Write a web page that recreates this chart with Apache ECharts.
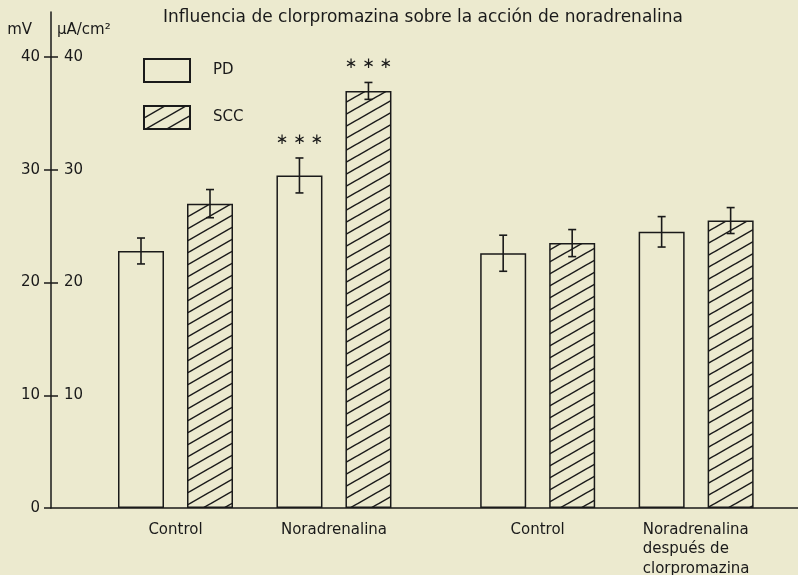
<!DOCTYPE html>
<html>
<head>
<meta charset="utf-8">
<script src="https://cdn.jsdelivr.net/npm/echarts@6/dist/echarts.min.js"></script>
<style>
html,body{margin:0;padding:0;background:#eceacf}
#main{width:798px;height:575px}
</style>
</head>
<body>
<div id="main"></div>
<script>
var titleText = 'Influencia de clorpromazina sobre la acción de noradrenalina';
var categories = ['Control', 'Noradrenalina', 'Control', 'Noradrenalina\ndespués de\nclorpromazina'];
var pdValues  = [22.8, 29.5, 22.6, 24.5];
var pdErrors  = [1.15, 1.55, 1.6, 1.35];
var sccValues = [27.0, 37.0, 23.5, 25.5];
var sccErrors = [1.25, 0.75, 1.2, 1.15];
var pdSig  = ['', '***', '', ''];
var sccSig = ['', '***', '', ''];
var mvTicks = [0, 10, 20, 30, 40];
var uaTicks = [10, 20, 30, 40];

// layout: axis cut into narrow slots so the gap between the two pairs can be wider
var SLOT_COUNT = 33;
var slotOf = [5, 12, 21, 28];
var BAR_W = 46, BAR_GAP = 23;
var OFFSET = (BAR_W + BAR_GAP) / 2;
var FONT = 'DejaVu Sans';
var INK = '#1a1a1a';

var slotNames = [];
for (var i = 0; i < SLOT_COUNT; i++) slotNames.push('');
categories.forEach(function(c, i){ slotNames[slotOf[i]] = c; });

function hatch(){
  var w = 21, h = 12;
  var c = document.createElement('canvas'); c.width = w; c.height = h;
  var g = c.getContext('2d');
  g.strokeStyle = INK; g.lineWidth = 1.5;
  for (var k = -1; k <= 1; k++) {
    g.beginPath();
    g.moveTo(-2, h + k*h + 2*h/w);
    g.lineTo(w + 2, k*h - 2*h/w);
    g.stroke();
  }
  return c;
}

function slotData(vals){ return vals.map(function(v, i){ return [slotOf[i], v]; }); }

function errSeries(vals, errs, sig, dx){
  return {
    type: 'custom', z: 5, silent: true,
    data: vals.map(function(v, i){ return [slotOf[i], v, errs[i]]; }),
    renderItem: function(params, api){
      var x = api.value(0), v = api.value(1), e = api.value(2);
      var top = api.coord([x, v + e]), bot = api.coord([x, v - e]);
      var cx = top[0] + dx, cap = 4;
      var ls = {stroke: INK, lineWidth: 1.6};
      var kids = [
        {type: 'line', shape: {x1: cx, y1: top[1], x2: cx, y2: bot[1]}, style: ls},
        {type: 'line', shape: {x1: cx - cap, y1: top[1], x2: cx + cap, y2: top[1]}, style: ls},
        {type: 'line', shape: {x1: cx - cap, y1: bot[1], x2: cx + cap, y2: bot[1]}, style: ls}
      ];
      var s = sig[params.dataIndex];
      if (s) kids.push({type: 'text', style: {
        text: s.split('').map(function(){ return '∗'; }).join(' '),
        x: cx, y: top[1] - 18, align: 'center', verticalAlign: 'middle',
        font: '15px ' + FONT, fill: INK}});
      return {type: 'group', children: kids};
    }
  };
}

var labelStyle = {fontSize: 15, color: INK, fontFamily: FONT};

var chart = echarts.init(document.getElementById('main'));
chart.setOption({
  backgroundColor: '#eceacf',
  animation: false,
  title: {
    text: titleText, left: 158, top: 4,
    textStyle: {fontSize: 17, fontWeight: 'normal', color: INK, fontFamily: FONT}
  },
  legend: {
    data: ['PD', 'SCC'], orient: 'vertical', left: 143, top: 58, padding: 0,
    itemWidth: 46, itemHeight: 23, itemGap: 22, icon: 'rect',
    textStyle: {fontSize: 15, color: INK, fontFamily: FONT, padding: [0, 0, 0, 18]}
  },
  grid: {left: 51, right: 0, top: 12, bottom: 67, containLabel: false, outerBoundsMode: 'none'},
  xAxis: {
    type: 'category', data: slotNames,
    axisLine: {lineStyle: {color: INK, width: 1.5}},
    axisTick: {show: false},
    axisLabel: {
      interval: 0, margin: 12,
      formatter: function(v){
        if (v.indexOf('\n') < 0) return v;
        return v.split('\n').map(function(l){ return '{l|' + l + '}'; }).join('\n');
      },
      fontSize: 15, color: INK, fontFamily: FONT, lineHeight: 19.5,
      rich: {l: {align: 'left', fontSize: 15, color: INK, fontFamily: FONT, lineHeight: 19.5}}
    }
  },
  yAxis: [{
    type: 'value', min: 0, max: 44, position: 'left',
    name: 'mV', nameLocation: 'end', nameGap: -18,
    nameTextStyle: {align: 'right', verticalAlign: 'middle', padding: [0, 19, 0, 0], fontSize: 15, color: INK, fontFamily: FONT},
    axisLine: {show: true, lineStyle: {color: INK, width: 1.5}},
    axisTick: {show: true, length: 7, customValues: mvTicks, lineStyle: {color: INK, width: 1.5}},
    axisLabel: Object.assign({customValues: mvTicks, margin: 11}, labelStyle),
    splitLine: {show: false}
  }, {
    type: 'value', min: 0, max: 44, position: 'left',
    name: 'μA/cm²', nameLocation: 'end', nameGap: -18,
    nameTextStyle: {align: 'left', verticalAlign: 'middle', padding: [0, 0, 0, 6], fontSize: 15, color: INK, fontFamily: FONT},
    axisLine: {show: false},
    axisTick: {show: true, inside: true, length: 7, customValues: uaTicks, lineStyle: {color: INK, width: 1.5}},
    axisLabel: Object.assign({customValues: uaTicks, inside: true, margin: 13}, labelStyle),
    splitLine: {show: false}
  }],
  series: [{
    name: 'PD', type: 'bar', barWidth: BAR_W, barGap: (BAR_GAP / BAR_W * 100) + '%',
    data: slotData(pdValues),
    itemStyle: {color: 'rgba(0,0,0,0)', borderColor: INK, borderWidth: 1.5}
  }, {
    name: 'SCC', type: 'bar', barWidth: BAR_W,
    data: slotData(sccValues),
    itemStyle: {color: {image: hatch(), repeat: 'repeat'}, borderColor: INK, borderWidth: 1.5}
  },
  errSeries(pdValues, pdErrors, pdSig, -OFFSET),
  errSeries(sccValues, sccErrors, sccSig, OFFSET)
  ]
});
</script>
</body>
</html>
